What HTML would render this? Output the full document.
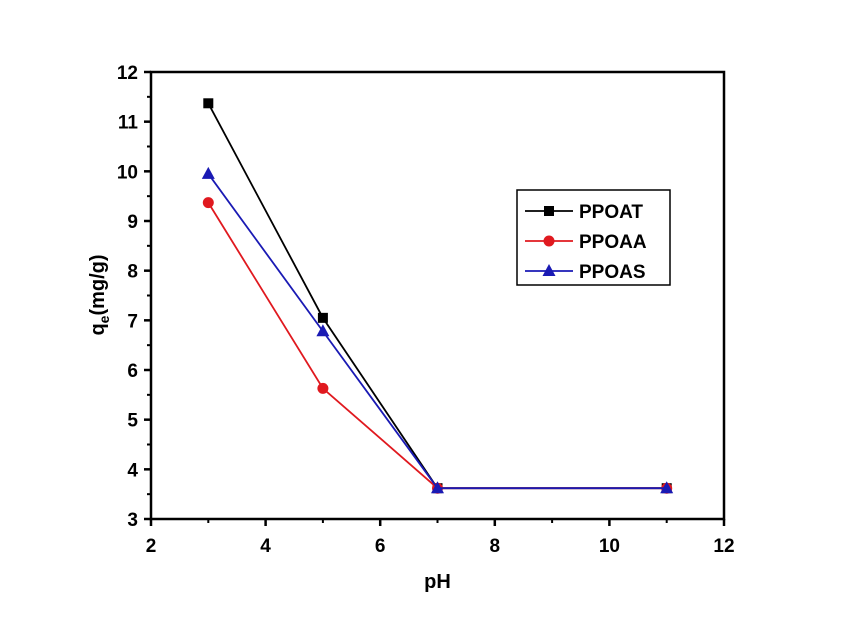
<!DOCTYPE html>
<html><head><meta charset="utf-8"><style>
body{margin:0;background:#fff;width:842px;height:621px;overflow:hidden}
text{font-family:"Liberation Sans",Arial,sans-serif;font-weight:bold}
</style></head><body>
<svg id="chart" width="842" height="621" xmlns="http://www.w3.org/2000/svg"></svg>
<script>
const xCats=[3,5,7,11];
const seriesNames=["PPOAT","PPOAA","PPOAS"];
const ppoat=[11.37,7.05,3.62,3.62];
const ppoaa=[9.37,5.63,3.62,3.62];
const ppoas=[9.95,6.78,3.62,3.62];
const xTicks=[2,4,6,8,10,12];
const yTicks=[3,4,5,6,7,8,9,10,11,12];
const L=151,R=724,T=72,B=519;
const xs=v=>L+(v-2)/10*(R-L);
const ys=v=>B-(v-3)/9*(B-T);
const svg=document.getElementById('chart');
const NS="http://www.w3.org/2000/svg";
function mk(tag,attrs,parent){const e=document.createElementNS(NS,tag);for(const k in attrs)e.setAttribute(k,attrs[k]);(parent||svg).appendChild(e);return e;}
const frame=mk('rect',{x:L,y:T,width:R-L,height:B-T,fill:'none',stroke:'#000','stroke-width':2.5});


xTicks.forEach((v,i)=>{
 const t=mk('line',{x1:xs(v),x2:xs(v),y1:B,y2:B+7,stroke:'#000','stroke-width':2.5});
 
 
 if(i<xTicks.length-1){const m=mk('line',{x1:xs(v+1),x2:xs(v+1),y1:B,y2:B+4,stroke:'#000','stroke-width':2});
 
 }
 const l=mk('text',{x:xs(v),y:B+33,'text-anchor':'middle','font-size':19});l.textContent=v;
 
 
});
yTicks.forEach((v,i)=>{
 const t=mk('line',{x1:L-7,x2:L,y1:ys(v),y2:ys(v),stroke:'#000','stroke-width':2.5});
 
 
 if(i<yTicks.length-1){const m=mk('line',{x1:L-4,x2:L,y1:ys(v+0.5),y2:ys(v+0.5),stroke:'#000','stroke-width':2});
 
 }
 const l=mk('text',{x:L-13,y:ys(v)+7,'text-anchor':'end','font-size':19});l.textContent=v;
 
 
});
const xt=mk('text',{x:(L+R)/2,y:588,'text-anchor':'middle','font-size':20});xt.textContent='pH';


const yt=mk('text',{transform:'translate(104,295) rotate(-90)','text-anchor':'middle','font-size':20});
yt.innerHTML='q<tspan font-size="14" dy="5">e</tspan><tspan dy="-5">(mg/g)</tspan>';


const colors=['#000','#e0191f','#1a1ab4'];
const data=[ppoat,ppoaa,ppoas];
function marker(k,x,y,g){
 let m;
 if(k===0)m=mk('rect',{x:x-5,y:y-5,width:10,height:10,fill:colors[k]},g);
 else if(k===1)m=mk('circle',{cx:x,cy:y,r:5.5,fill:colors[k]},g);
 else m=mk('polygon',{points:`${x},${y-7} ${x-6.5},${y+5} ${x+6.5},${y+5}`,fill:colors[k]},g);
 
 
}
data.forEach((s,k)=>{
 const g=mk('g',{});
 
 
 const p=mk('polyline',{points:s.map((v,i)=>xs(xCats[i])+','+ys(v)).join(' '),fill:'none',stroke:colors[k],'stroke-width':1.8},g);
 
 
 s.forEach((v,i)=>marker(k,xs(xCats[i]),ys(v),g));
});
const lg=mk('g',{});


const lb=mk('rect',{x:517,y:190,width:153,height:95,fill:'#fff',stroke:'#000','stroke-width':1.5},lg);


seriesNames.forEach((n,k)=>{
 const y=211+k*30;
 const ln=mk('line',{x1:525,x2:573,y1:y,y2:y,stroke:colors[k],'stroke-width':1.8},lg);
 
 
 marker(k,549,y,lg);
 const t=mk('text',{x:579,y:y+7,'font-size':19},lg);t.textContent=n;
 
 
});
</script>
</body></html>
